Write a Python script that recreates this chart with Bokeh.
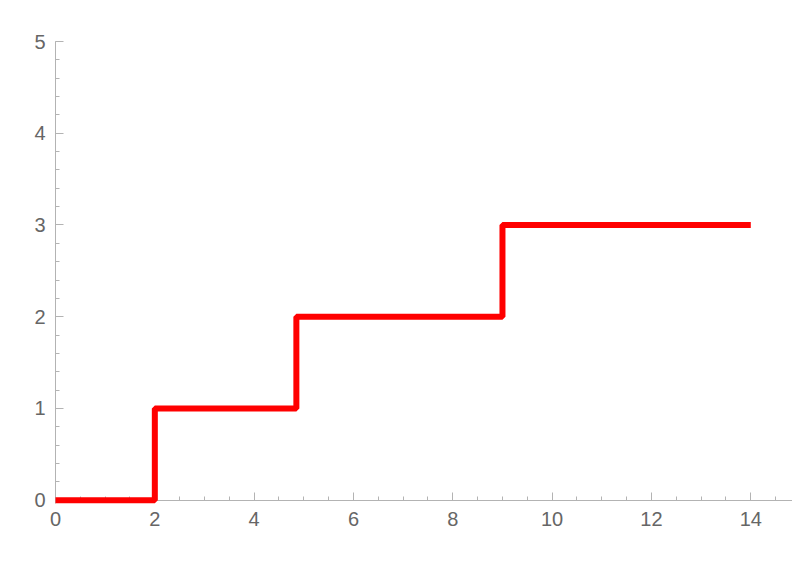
from bokeh.plotting import figure
from bokeh.models import Range1d, SingleIntervalTicker, LinearAxis, FixedTicker
from bokeh.embed import file_html
from bokeh.resources import INLINE

# step data: value holds from each x until the next
step_x = [0, 2, 4.85, 9, 14]
step_y = [0, 1, 2, 3, 3]
x_major = [0, 2, 4, 6, 8, 10, 12, 14]
x_minor = [i * 0.5 for i in range(0, 30)]

p = figure(width=792, height=556, output_backend="svg", toolbar_location=None,
           x_range=Range1d(0, 14.84), y_range=Range1d(-0.036, 5),
           min_border_left=55, min_border_right=0, min_border_top=41, min_border_bottom=53)
p.outline_line_color = None
p.xgrid.visible = False
p.ygrid.visible = False
p.background_fill_color = "white"
p.border_fill_color = "white"

r = p.step(step_x, step_y, mode="after", line_color="#FF0000", line_width=6)
r.level = "overlay"

GRAY = "#b3b3b3"
# x axis line + minor ticks, placed at y = 0
xa = p.xaxis[0]
xa.ticker = FixedTicker(ticks=[], minor_ticks=x_minor)
xa.fixed_location = 0
xa.axis_line_color = GRAY
xa.minor_tick_line_color = GRAY
xa.minor_tick_in = 4
xa.minor_tick_out = 0
xa.major_tick_line_color = None

# y axis
ya = p.yaxis[0]
ya.ticker = SingleIntervalTicker(interval=1, num_minor_ticks=5)
ya.axis_line_color = GRAY
ya.major_tick_line_color = GRAY
ya.minor_tick_line_color = GRAY
ya.major_tick_in = 8
ya.major_tick_out = 0
ya.minor_tick_in = 4
ya.minor_tick_out = 0
ya.major_label_text_font = "Liberation Sans"
ya.major_label_text_font_size = "20px"
ya.major_label_text_color = "#666666"
ya.major_label_standoff = 10

# x major ticks and labels
lab = LinearAxis(ticker=FixedTicker(ticks=x_major, minor_ticks=[]),
                 axis_line_color=None, major_tick_line_color=GRAY, minor_tick_line_color=None,
                 major_tick_in=11, major_tick_out=-3,
                 major_label_text_font="Liberation Sans", major_label_text_font_size="20px",
                 major_label_text_color="#666666", major_label_standoff=8)
p.add_layout(lab, "below")

open("out.html", "w").write(file_html(p, INLINE))
